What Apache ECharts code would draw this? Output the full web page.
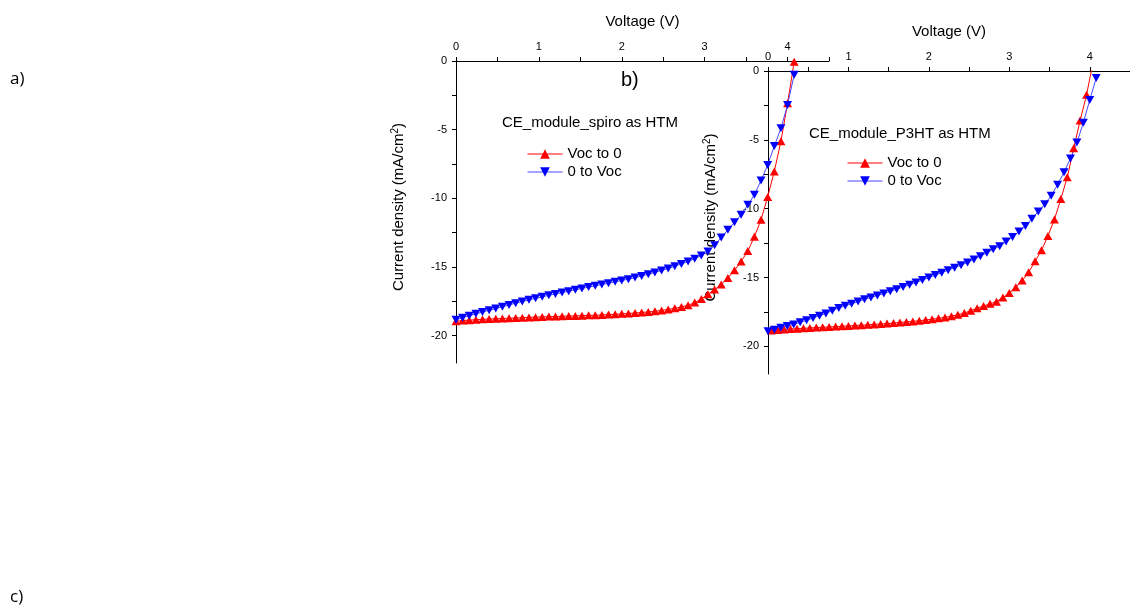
<!DOCTYPE html>
<html>
<head>
<meta charset="utf-8">
<script src="https://cdn.jsdelivr.net/npm/echarts@6/dist/echarts.min.js"></script>
<style>
html, body { margin: 0; padding: 0; background: #fff; }
#diogram { width: 1130px; height: 609px; }
</style>
</head>
<body>
<div id="diogram"></div>
<script>
// voltage steps of the scans (V)
let voltA = [0, 0.08, 0.16, 0.24, 0.32, 0.4, 0.48, 0.56, 0.64, 0.72, 0.8, 0.88, 0.96, 1.04, 1.12, 1.2, 1.28, 1.36, 1.44, 1.52,
    1.6, 1.68, 1.76, 1.84, 1.92, 2, 2.08, 2.16, 2.24, 2.32, 2.4, 2.48, 2.56, 2.64, 2.72, 2.8, 2.88, 2.96, 3.04, 3.12,
    3.2, 3.28, 3.36, 3.44, 3.52, 3.6, 3.68, 3.76, 3.84, 3.92, 4, 4.08];
let voltB = [0.04, 0.12, 0.2, 0.28, 0.36, 0.44, 0.52, 0.6, 0.68, 0.76, 0.84, 0.92, 1, 1.08, 1.16, 1.24, 1.32, 1.4, 1.48, 1.56,
    1.64, 1.72, 1.8, 1.88, 1.96, 2.04, 2.12, 2.2, 2.28, 2.36, 2.44, 2.52, 2.6, 2.68, 2.76, 2.84, 2.92, 3, 3.08, 3.16,
    3.24, 3.32, 3.4, 3.48, 3.56, 3.64, 3.72, 3.8, 3.88, 3.96, 4.04];

// current density (mA/cm2), spiro module
let spiroVocTo0 = [-18.95, -18.91, -18.88, -18.85, -18.82, -18.8, -18.78, -18.76, -18.74, -18.72,
    -18.7, -18.68, -18.66, -18.64, -18.62, -18.61, -18.6, -18.58, -18.57, -18.55,
    -18.53, -18.52, -18.5, -18.47, -18.45, -18.42, -18.39, -18.36, -18.32, -18.28,
    -18.23, -18.17, -18.1, -18.02, -17.92, -17.79, -17.6, -17.33, -17.0, -16.65,
    -16.28, -15.8, -15.25, -14.6, -13.85, -12.8, -11.57, -9.9, -8.05, -5.85,
    -3.08, -0.05];
let spiro0ToVoc = [-18.85, -18.7, -18.56, -18.42, -18.29, -18.16, -18.03, -17.9, -17.77, -17.64,
    -17.52, -17.4, -17.29, -17.18, -17.07, -16.97, -16.87, -16.77, -16.67, -16.57,
    -16.47, -16.38, -16.28, -16.19, -16.09, -15.99, -15.89, -15.78, -15.66, -15.53,
    -15.4, -15.26, -15.11, -14.95, -14.78, -14.6, -14.4, -14.17, -13.88, -13.42,
    -12.85, -12.3, -11.75, -11.2, -10.48, -9.75, -8.7, -7.57, -6.2, -4.9,
    -3.2, -1.0];

// current density (mA/cm2), P3HT module
let p3htVocTo0 = [-18.85, -18.8, -18.77, -18.74, -18.71, -18.68, -18.66, -18.63, -18.61, -18.58,
    -18.56, -18.53, -18.51, -18.48, -18.46, -18.43, -18.4, -18.37, -18.34, -18.3,
    -18.26, -18.22, -18.18, -18.13, -18.08, -18.02, -17.96, -17.89, -17.8, -17.7,
    -17.58, -17.4, -17.22, -17.07, -16.9, -16.75, -16.45, -16.12, -15.7, -15.22,
    -14.62, -13.82, -13.02, -11.98, -10.78, -9.3, -7.72, -5.6, -3.6, -1.72,
    0.6];
let p3ht0ToVoc = [-18.9, -18.78, -18.65, -18.52, -18.4, -18.25, -18.1, -17.93, -17.77, -17.6,
    -17.4, -17.2, -17.05, -16.9, -16.74, -16.58, -16.44, -16.3, -16.15, -16.0,
    -15.84, -15.68, -15.52, -15.35, -15.18, -15.0, -14.82, -14.64, -14.46, -14.28,
    -14.1, -13.9, -13.68, -13.45, -13.2, -12.95, -12.72, -12.38, -12.05, -11.65,
    -11.25, -10.72, -10.2, -9.68, -9.05, -8.25, -7.35, -6.35, -5.2, -3.75,
    -2.1, -0.5];

// axis ticks
let voltLabels = [0, 1, 2, 3, 4];
let voltTicks = [0, 0.5, 1, 1.5, 2, 2.5, 3, 3.5, 4, 4.5];
let currentLabels = [0, -5, -10, -15, -20];
let currentTicks = [0, -2.5, -5, -7.5, -10, -12.5, -15, -17.5, -20];

let names = ['Voc to 0', '0 to Voc'];

let font = 'Liberation Sans, Arial, sans-serif';

function pairs(xs, ys) {
    return xs.map(function (x, i) { return [x, ys[i]]; });
}

function xAxisOf(idx) {
    return {
        gridIndex: idx,
        type: 'value',
        position: 'top',
        min: 0,
        max: 4.5,
        name: 'Voltage (V)',
        nameLocation: 'middle',
        nameGap: 32,
        nameTextStyle: { fontSize: 15, color: '#000', fontFamily: font },
        axisLine: { show: true, onZero: false, lineStyle: { color: '#000', width: 1 } },
        axisTick: { show: true, length: 4, customValues: voltTicks, lineStyle: { color: '#000' } },
        axisLabel: { customValues: voltLabels, fontSize: 11, color: '#000', margin: 9, fontFamily: font },
        splitLine: { show: false }
    };
}

function yAxisOf(idx) {
    return {
        gridIndex: idx,
        type: 'value',
        min: -22,
        max: 0,
        name: 'Current density (mA/cm{sup|2})',
        nameLocation: 'middle',
        nameGap: 48,
        nameTextStyle: {
            fontSize: 15, color: '#000', fontFamily: font, lineHeight: 18,
            padding: [0, 0, 0, 10],
            rich: { sup: { fontSize: 10, lineHeight: 10, verticalAlign: 'top', color: '#000', fontFamily: font } }
        },
        axisLine: { show: true, onZero: false, lineStyle: { color: '#000', width: 1 } },
        axisTick: { show: true, length: 4, customValues: currentTicks, lineStyle: { color: '#000' } },
        axisLabel: { customValues: currentLabels, fontSize: 11, color: '#000', margin: 9, fontFamily: font },
        splitLine: { show: false }
    };
}

function seriesOf(name, idx, data, up) {
    let c = up ? '#ff0000' : '#0000ff';
    return {
        name: name,
        type: 'line',
        xAxisIndex: idx,
        yAxisIndex: idx,
        data: data,
        clip: true,
        symbol: 'triangle',
        symbolSize: [9, 8],
        symbolRotate: up ? 0 : 180,
        showAllSymbol: true,
        lineStyle: { color: up ? '#ff0000' : '#4a4aff', width: 1 },
        itemStyle: { color: c },
        animation: false
    };
}

function legendOf(left, top) {
    return {
        data: names,
        orient: 'vertical',
        left: left,
        top: top,
        padding: 0,
        itemWidth: 35,
        itemHeight: 12,
        itemGap: 2,
        symbolRotate: 'inherit',
        lineStyle: { width: 1 },
        textStyle: { fontSize: 15, color: '#000', fontFamily: font, lineHeight: 16 }
    };
}

function labelOf(text, left, top, size, family) {
    return {
        text: text,
        left: left,
        top: top,
        padding: 0,
        textStyle: { fontSize: size, fontWeight: 'normal', color: '#000', fontFamily: family }
    };
}

let diogram = document.getElementById('diogram');
let myDiogram = echarts.init(diogram);

let option = {
    animation: false,
    backgroundColor: '#fff',
    title: [
        labelOf('CE_module_spiro as HTM', 502, 115, 15, font),
        labelOf('CE_module_P3HT as HTM', 809, 126, 15, font),
        labelOf('a)', 10, 71, 17, 'Open Sans, sans-serif'),
        labelOf('b)', 621, 70, 20, font),
        labelOf('c)', 10, 589, 17, 'Open Sans, sans-serif')
    ],
    legend: [legendOf(527, 146), legendOf(847, 155)],
    grid: [
        { left: 456, top: 61, width: 373, height: 302 },
        { left: 768, top: 71, width: 372, height: 303 }
    ],
    xAxis: [xAxisOf(0), xAxisOf(1)],
    yAxis: [yAxisOf(0), yAxisOf(1)],
    series: [
        seriesOf(names[0], 0, pairs(voltA, spiroVocTo0), true),
        seriesOf(names[1], 0, pairs(voltA, spiro0ToVoc), false),
        seriesOf(names[0], 1, pairs(voltB, p3htVocTo0), true),
        seriesOf(names[1], 1, pairs(voltA, p3ht0ToVoc), false)
    ]
};

myDiogram.setOption(option);
</script>
</body>
</html>
